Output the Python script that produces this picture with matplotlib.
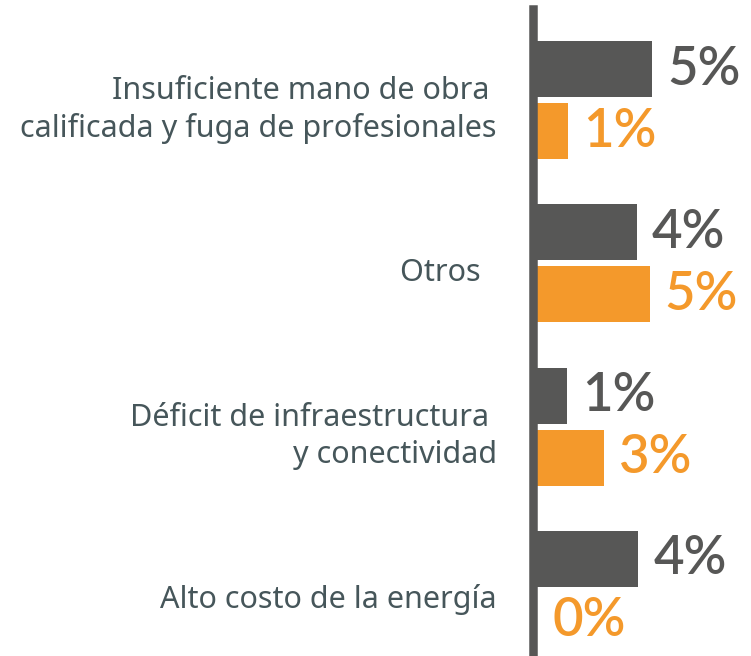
import numpy as np
import matplotlib
matplotlib.use("Agg")
import matplotlib.pyplot as plt

# -------------------------------------------------------
# Data
# -------------------------------------------------------

categories = [
    "Insuficiente mano de obra \ncalificada y fuga de profesionales",
    "Otros  ",
    "Déficit de infraestructura \ny conectividad",
    "Alto costo de la energía",
]
gray_values = [5.0, 4.35, 1.3, 4.4]
orange_values = [1.35, 4.9, 2.9, 0.0]

GRAY = "#575756"
ORANGE = "#F4992B"
TEXT = "#46565A"

# -------------------------------------------------------
# Layout in pixels -> data units
# -------------------------------------------------------

W, H, DPI = 751, 656, 100
PX_PER_UNIT = 23.0      # bar length scale
ROW_PX = 163.3          # distance between categories
ZERO_PX = 537           # x of bar origin
TOP_PX = 9              # top of the axis line
FIRST_ROW_PX = 100      # centre of first group

fig = plt.figure(figsize=(W / DPI, H / DPI), dpi=DPI)
ax = fig.add_axes([ZERO_PX / W, 0, 1 - ZERO_PX / W, (H - TOP_PX) / H])

ax.set_xlim(0, (W - ZERO_PX) / PX_PER_UNIT)
ax.set_ylim((H - FIRST_ROW_PX) / ROW_PX, (TOP_PX - FIRST_ROW_PX) / ROW_PX)

y = np.arange(len(categories))
bar_h = 56 / ROW_PX
off = 31 / ROW_PX

ax.barh(y - off, gray_values, height=bar_h, color=GRAY, left=0)
ax.barh(y + off, orange_values, height=bar_h, color=ORANGE, left=0)

# vertical axis line, drawn just left of the bar origin
ax.axvline(-4.25 / PX_PER_UNIT, color=GRAY, lw=8.5 * 72 / DPI, clip_on=False)

gap = 15 / PX_PER_UNIT
for i, (g, o) in enumerate(zip(gray_values, orange_values)):
    ax.text(g + gap, i - off, f"{g:.0f}%", color=GRAY, fontsize=38,
            family="Lato", weight="semibold", va="center", ha="left",
            clip_on=False)
    ax.text(o + gap, i + off, f"{o:.0f}%", color=ORANGE, fontsize=38,
            family="Lato", weight="semibold", va="center", ha="left",
            clip_on=False)

label_x = (497 - ZERO_PX) / PX_PER_UNIT
for i, lab in enumerate(categories):
    ax.text(label_x, i + 0.06, lab, color=TEXT, fontsize=22,
            family="Noto Sans", ha="right", va="center",
            multialignment="right", linespacing=1.3, clip_on=False)

ax.axis("off")

fig.savefig("out.png", dpi=DPI)
